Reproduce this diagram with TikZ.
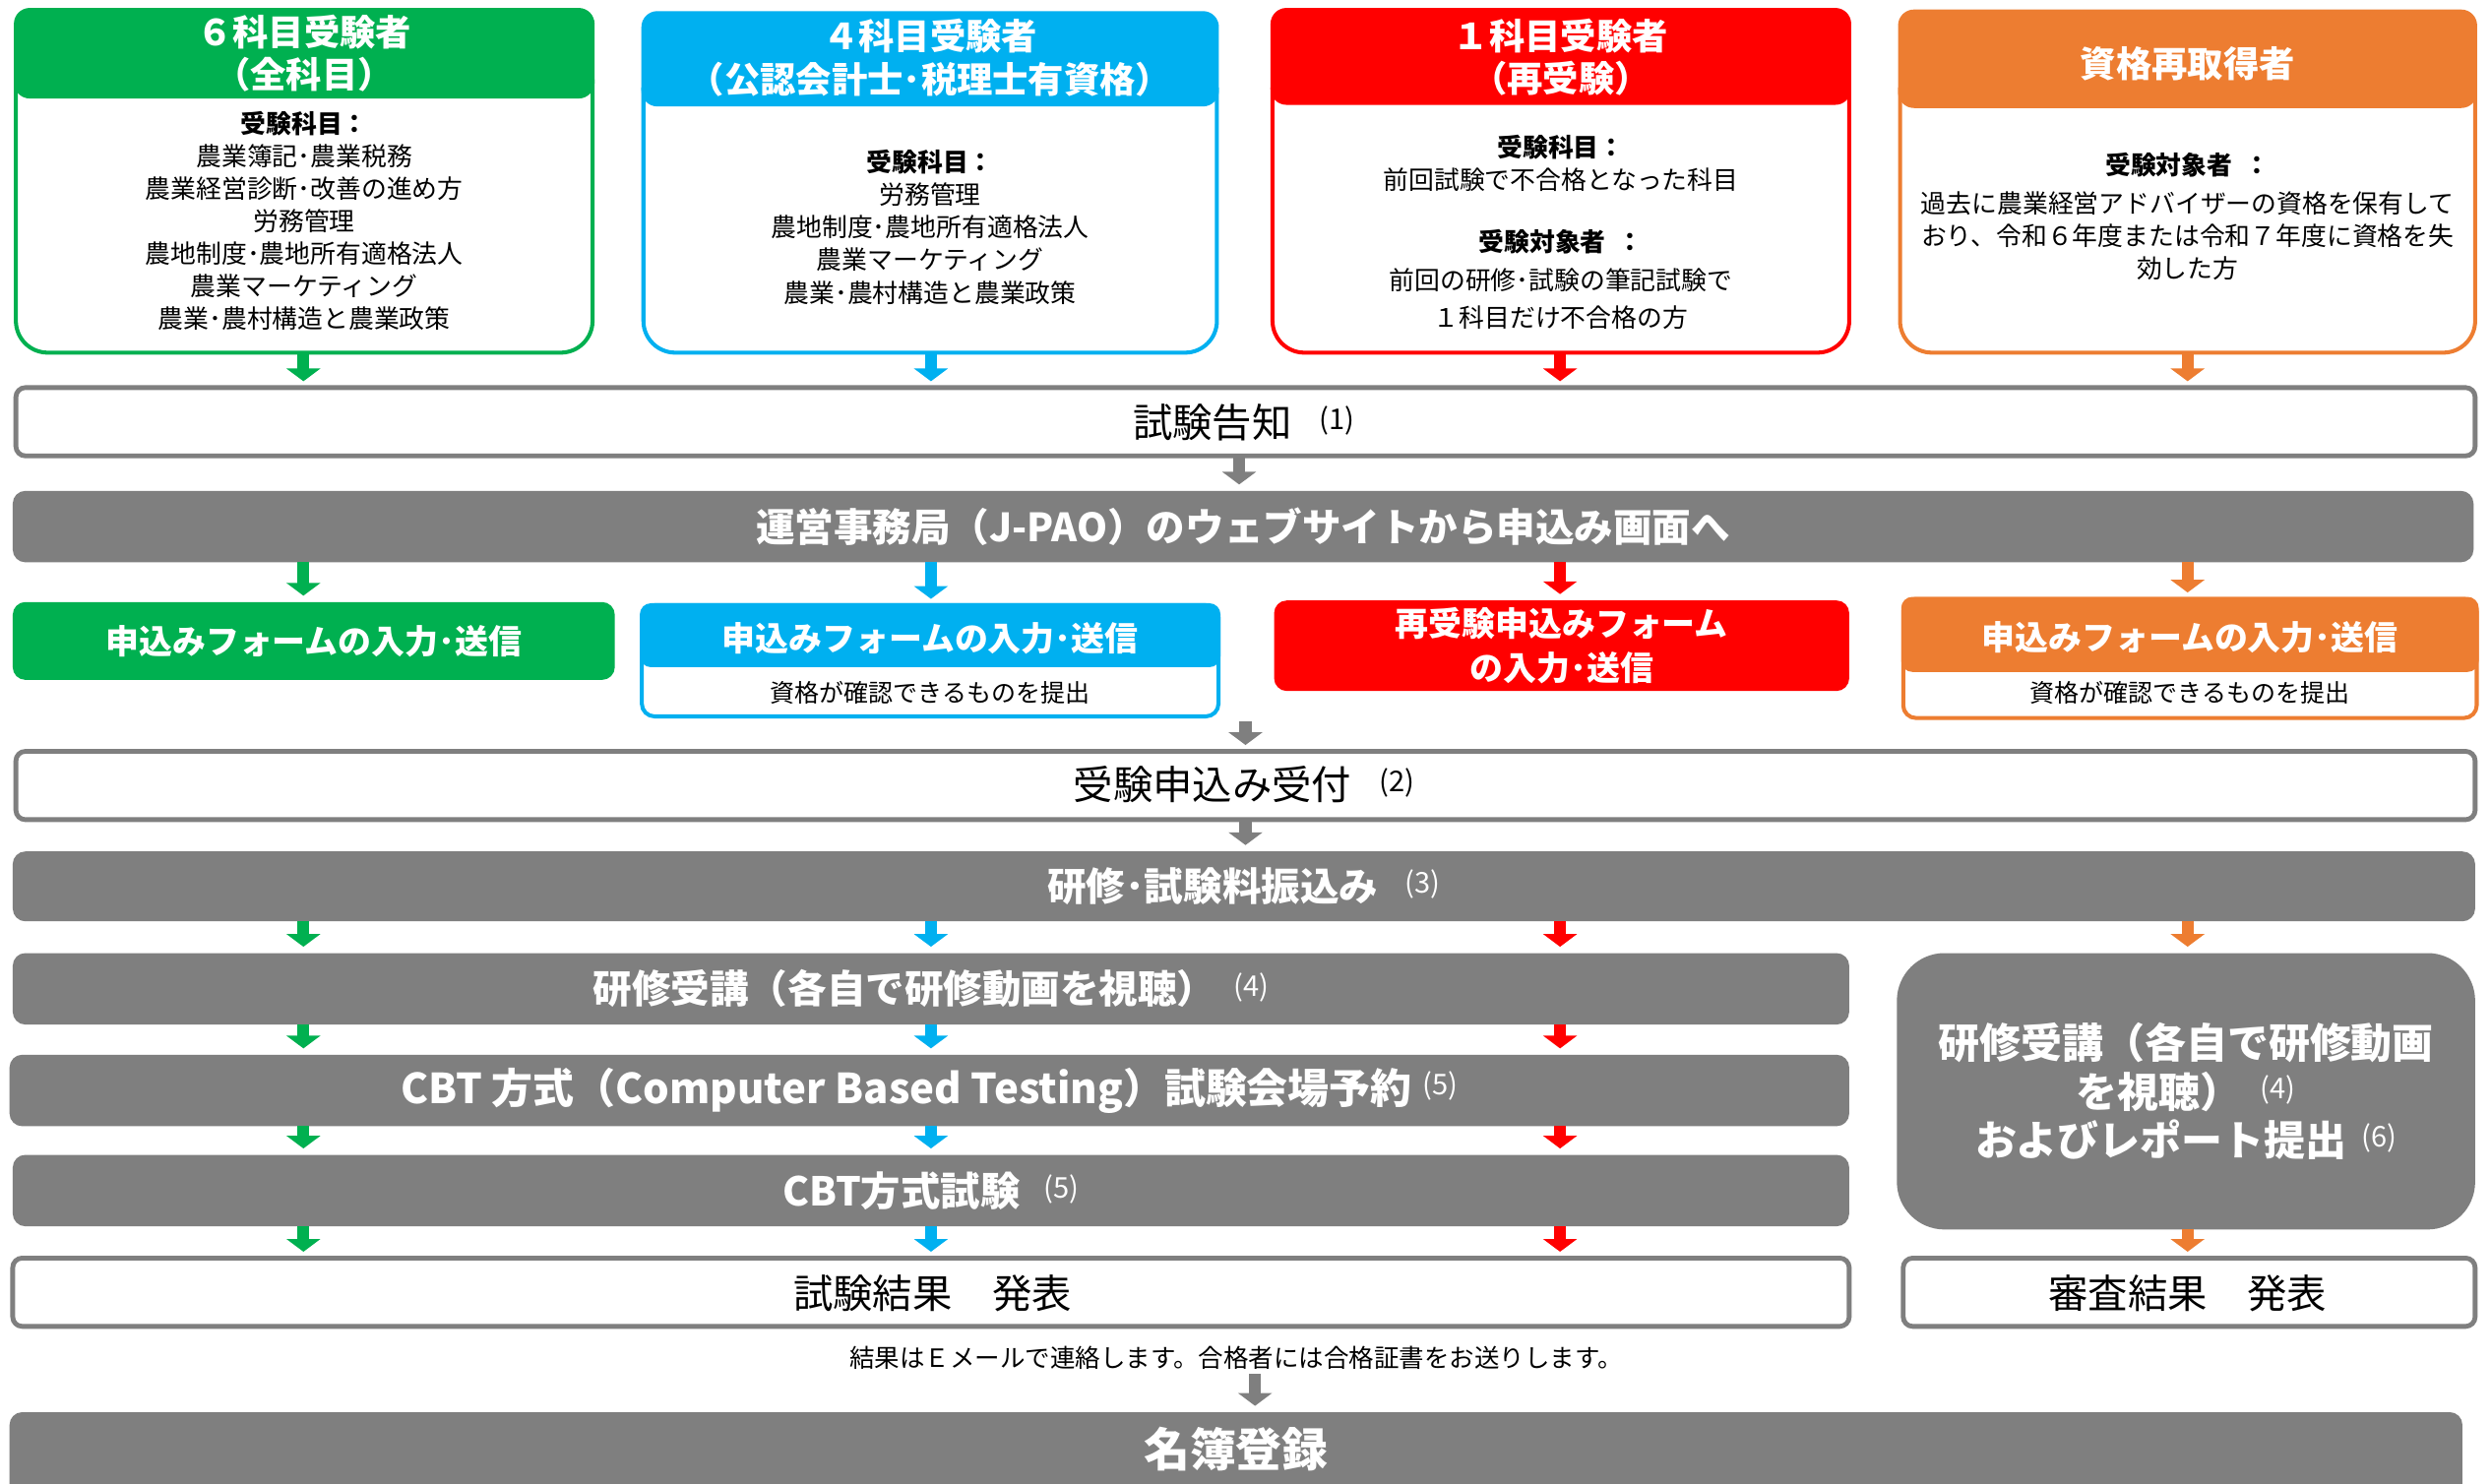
\documentclass[tikz,border=0pt]{standalone}
\usepackage{fontspec}
\setmainfont{Noto Sans CJK JP}
\usetikzlibrary{arrows.meta}
\definecolor{cg}{HTML}{00B050}
\definecolor{cb}{HTML}{00B0F0}
\definecolor{cr}{HTML}{FF0000}
\definecolor{co}{HTML}{ED7D31}
\definecolor{gy}{HTML}{7F7F7F}
\newcommand\myfs[2]{\fontsize{#1}{#2}\selectfont}
\newcommand\refno[2][0.7em]{\hspace{#1}\raisebox{0.2em}{\myfs{18}{18}\mdseries(#2)}}
\begin{document}
\begin{tikzpicture}[x=1pt,y=-1pt,
  frame/.style={inner sep=0pt, outer sep=0pt},
  topbody/.style={draw=#1, line width=2.5pt, fill=white, rounded corners=20pt},
  tophead/.style={fill=#1, rounded corners=10pt},
  hdr/.style={text=white, font=\myfs{22.5}{27}\bfseries, align=center, inner sep=0pt},
  bodyt/.style={text=black, font=\myfs{16}{20.5}, align=center, inner sep=0pt},
  whitebar/.style={draw=gy, line width=3pt, fill=white, rounded corners=6pt, inner sep=0pt, outer sep=0pt},
  graybar/.style={fill=gy, rounded corners=8pt, inner sep=0pt, outer sep=0pt, text=white, font=\myfs{24.5}{28}\bfseries},
  formfill/.style={fill=#1, rounded corners=8pt, inner sep=0pt, outer sep=0pt, text=white, font=\myfs{21}{28}\bfseries, align=center},
  formline/.style={draw=#1, line width=2.5pt, fill=white, rounded corners=8pt, inner sep=0pt, outer sep=0pt},
  formhead/.style={fill=#1, rounded corners=7pt},
  formt/.style={text=white, font=\myfs{21}{28}\bfseries, align=center, inner sep=0pt},
  subt/.style={text=black, font=\myfs{15.5}{18}, inner sep=0pt},
  plain/.style={text=black, font=\myfs{25}{28}, inner sep=0pt},
  arr/.style={line width=7.5pt, draw=#1, -{Triangle[width=21pt,length=8pt]}, shorten <=0pt, shorten >=4pt}
]
\useasboundingbox (0,0) rectangle (1568,934);
\fill[white] (0,0) rectangle (1568,934);

% arrow columns
\coordinate (cG) at (191,0);
\coordinate (cB) at (586,0);
\coordinate (cR) at (982,0);
\coordinate (cO) at (1377,0);

% ---------- top boxes ----------
% green
\node[frame, minimum width=363, minimum height=217] (g0) at (191.5,113.5) {};
\draw[topbody=cg] (10,50) -- (10,222) -- (373,222) -- (373,50);
\fill[tophead=cg] (8.75,5) rectangle (374.25,62);
\node[hdr] (g1) at (191.5,33.5) {６科目受験者\\（全科目）};
\node[bodyt] (g2) at (191.5,139) {\textbf{受験科目：}\\農業簿記･農業税務\\農業経営診断･改善の進め方\\労務管理\\農地制度･農地所有適格法人\\農業マーケティング\\農業･農村構造と農業政策};
% blue
\node[frame, minimum width=361, minimum height=215] (b0) at (585.5,114.5) {};
\draw[topbody=cb] (405,55) -- (405,222) -- (766,222) -- (766,55);
\fill[tophead=cb] (403.75,7) rectangle (767.25,67);
\node[hdr] (b1) at (585.5,36.5) {４科目受験者\\（公認会計士･税理士有資格）};
\node[bodyt] (b2) at (585.5,143) {\textbf{受験科目：}\\労務管理\\農地制度･農地所有適格法人\\農業マーケティング\\農業･農村構造と農業政策};
% red
\node[frame, minimum width=363, minimum height=217] (r0) at (982.5,113.5) {};
\draw[topbody=cr] (801,55) -- (801,222) -- (1164,222) -- (1164,55);
\fill[tophead=cr] (799.75,5) rectangle (1165.25,66);
\node[hdr] (r1) at (982.5,36) {１科目受験者\\（再受験）};
\node[bodyt] (r2) at (982.5,103) {\textbf{受験科目：}\\前回試験で不合格となった科目};
\node[bodyt, font=\myfs{16}{24}] (r3) at (982.5,176) {\textbf{受験対象者\ \ ：}\\前回の研修･試験の筆記試験で\\１科目だけ不合格の方};
% orange
\node[frame, minimum width=362, minimum height=216] (o0) at (1377,114) {};
\draw[topbody=co] (1196,55) -- (1196,222) -- (1558,222) -- (1558,55);
\fill[tophead=co] (1194.75,6) rectangle (1559.25,68);
\node[hdr] (o1) at (1377,40) {資格再取得者};
\node[bodyt] (o2) at (1377,104) {\textbf{受験対象者\ \ ：}};
\node[bodyt] (o3) at (1377,148.5) {過去に農業経営アドバイザーの資格を保有して\\おり、令和６年度または令和７年度に資格を失\\効した方};

% ---------- flow ----------
\node[whitebar, minimum width=1548, minimum height=43] (kokuchi) at (784,265.5) {};
\node[plain] (kokuchiT) at (783,266) {試験告知\refno{1}};

\node[graybar, minimum width=1549, minimum height=45] (unei) at (782.5,331.5) {運営事務局（J-PAO）のウェブサイトから申込み画面へ};

% forms
\node[formfill=cg, minimum width=379, minimum height=49] (fG) at (197.5,403.5) {申込みフォームの入力･送信};

\node[formline=cb, minimum width=363, minimum height=70] (fB) at (585.5,416) {};
\fill[formhead=cb] (402.75,379.75) rectangle (768.25,420);
\node[formt] (fBt) at (585.5,402) {申込みフォームの入力･送信};
\node[subt] (fBs) at (585.5,436) {資格が確認できるものを提出};

\node[formfill=cr, minimum width=362, minimum height=57] (fR) at (983,406.5) {再受験申込みフォーム\\の入力･送信};

\node[formline=co, minimum width=361, minimum height=75] (fO) at (1378.5,414.5) {};
\fill[formhead=co] (1196.75,375.75) rectangle (1560.25,423);
\node[formt] (fOt) at (1378.5,401) {申込みフォームの入力･送信};
\node[subt] (fOs) at (1378.5,436) {資格が確認できるものを提出};

\coordinate (join) at (784,454);

\node[whitebar, minimum width=1548, minimum height=43] (uketsuke) at (784,494.5) {};
\node[plain] (uketsukeT) at (783,494) {受験申込み受付\refno{2}};

\node[graybar, minimum width=1550, minimum height=44] (furikomi) at (783,558) {研修･試験料振込み\refno{3}};

\node[graybar, minimum width=1156, minimum height=45] (kenshu) at (586,622.5) {研修受講（各自で研修動画を視聴）\refno[0.45em]{4}};
\node[graybar, minimum width=1158, minimum height=45, font=\myfs{26}{28}\bfseries] (cbt) at (585,686.5) {CBT 方式（Computer Based Testing）試験会場予約\refno[0.25em]{5}};
\node[graybar, minimum width=1156, minimum height=45, font=\myfs{25}{28}\bfseries] (cbtexam) at (586,749.5) {CBT方式試験\refno[0.6em]{5}};

\node[graybar, rounded corners=30pt, minimum width=364, minimum height=174, align=center, font=\myfs{26}{30.5}\bfseries] (report) at (1376,687) {研修受講（各自で研修動画\\を視聴）\refno[0.45em]{4}\\およびレポート提出\refno[0.35em]{6}};

\node[whitebar, minimum width=1156, minimum height=43] (kekka) at (586,813.5) {};
\node[plain] (kekkaT) at (587,814) {試験結果　発表};
\node[whitebar, minimum width=360, minimum height=43] (shinsa) at (1378,813.5) {};
\node[plain] (shinsaT) at (1377,814) {審査結果　発表};

\node[font=\myfs{15.8}{18}, inner sep=0pt] (note) at (778,855) {結果はＥメールで連絡します。合格者には合格証書をお送りします。};

\node[graybar, minimum width=1544, minimum height=70] (meibo) at (778,924) {};
\node[text=white, font=\myfs{29}{30}\bfseries, inner sep=0pt] (meiboT) at (778,912) {名簿登録};

% ---------- arrows ----------
\foreach \c/\col/\src in {cG/cg/g0, cB/cb/b0, cR/cr/r0, cO/co/o0}{
  \draw[arr=\col] (\src.south -| \c) -- (kokuchi.north -| \c);
}
\coordinate (ku) at (780,0);
\draw[arr=gy] (kokuchi.south -| ku) -- (unei.north -| ku);
\draw[arr=cg] (unei.south -| cG) -- (fG.north -| cG);
\draw[arr=cb] (unei.south -| cB) -- (fB.north -| cB);
\draw[arr=cr] (unei.south -| cR) -- (fR.north -| cR);
\draw[arr=co] (unei.south -| cO) -- (fO.north -| cO);
\draw[arr=gy] (join) -- (uketsuke.north -| join);
\draw[arr=gy] (uketsuke.south -| join) -- (furikomi.north -| join);
\draw[arr=cg] (furikomi.south -| cG) -- (kenshu.north -| cG);
\draw[arr=cb] (furikomi.south -| cB) -- (kenshu.north -| cB);
\draw[arr=cr] (furikomi.south -| cR) -- (kenshu.north -| cR);
\draw[arr=co] (furikomi.south -| cO) -- (report.north -| cO);
\foreach \c/\col in {cG/cg, cB/cb, cR/cr}{
  \draw[arr=\col] (kenshu.south -| \c) -- (cbt.north -| \c);
  \draw[arr=\col] (cbt.south -| \c) -- (cbtexam.north -| \c);
  \draw[arr=\col] (cbtexam.south -| \c) -- (kekka.north -| \c);
}
\draw[arr=co] (report.south -| cO) -- (shinsa.north -| cO);
\coordinate (nb) at (790,865);
\draw[arr=gy] (nb) -- (meibo.north -| nb);
\end{tikzpicture}
\end{document}
